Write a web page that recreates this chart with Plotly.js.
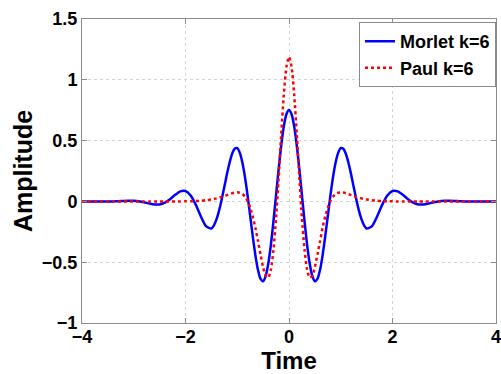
<!DOCTYPE html>
<html>
<head>
<meta charset="utf-8">
<script src="https://cdn.plot.ly/plotly-3.0.1.min.js"></script>
<style>html,body{margin:0;padding:0;background:#fff;}#chart{width:501px;height:374px;}</style>
</head>
<body>
<div id="chart"></div>
<script>
const time = [-4,-3.9,-3.8,-3.7,-3.6,-3.5,-3.4,-3.3,-3.2,-3.1,-3,-2.9,-2.8,-2.7,-2.6,-2.5,-2.4,-2.3,-2.2,-2.1,-2,-1.9,-1.8,-1.7,-1.6,-1.5,-1.45,-1.4,-1.35,-1.3,-1.25,-1.2,-1.15,-1.1,-1.05,-1,-0.95,-0.9,-0.85,-0.8,-0.75,-0.7,-0.65,-0.6,-0.55,-0.5,-0.45,-0.4,-0.35,-0.3,-0.25,-0.2,-0.15,-0.1,-0.05,0,0.05,0.1,0.15,0.2,0.25,0.3,0.35,0.4,0.45,0.5,0.55,0.6,0.65,0.7,0.75,0.8,0.85,0.9,0.95,1,1.05,1.1,1.15,1.2,1.25,1.3,1.35,1.4,1.45,1.5,1.6,1.7,1.8,1.9,2,2.1,2.2,2.3,2.4,2.5,2.6,2.7,2.8,2.9,3,3.1,3.2,3.3,3.4,3.5,3.6,3.7,3.8,3.9,4];

const morlet = [0.0001,-0.0001,-0.0004,-0.0008,-0.0011,-0.0009,0.0000,0.0019,0.0042,0.0060,0.0055,
0.0014,-0.0069,-0.0173,-0.0254,-0.0251,-0.0110,0.0177,0.0538,0.0828,0.0858,
0.0486,-0.0289,-0.1265,-0.2056,
-0.2222,-0.1964,-0.1464,-0.0735,0.0174,0.1192,0.2224,0.3161,0.3897,0.4328,
0.4374,0.3993,0.3180,0.1978,0.0477,-0.1195,-0.2882,-0.4414,-0.5626,-0.6376,
-0.6562,-0.6137,-0.5113,-0.3567,-0.1631,0.0515,0.2668,0.4617,0.6168,0.7167,
0.7511,
0.7167,0.6168,0.4617,0.2668,0.0515,-0.1631,-0.3567,-0.5113,-0.6137,-0.6562,
-0.6376,-0.5626,-0.4414,-0.2882,-0.1195,0.0477,0.1978,0.3180,0.3993,0.4374,
0.4328,0.3897,0.3161,0.2224,0.1192,0.0174,-0.0735,-0.1464,-0.1964,-0.2222,
-0.2056,-0.1265,-0.0289,0.0486,
0.0858,0.0828,0.0538,0.0177,-0.0110,-0.0251,-0.0254,-0.0173,-0.0069,0.0014,
0.0055,0.0060,0.0042,0.0019,0.0000,-0.0009,-0.0011,-0.0008,-0.0004,-0.0001,0.0001];

const paul = [-0.0001,-0.0001,-0.0001,-0.0001,-0.0001,-0.0001,-0.0001,-0.0002,-0.0002,-0.0002,-0.0003,
-0.0003,-0.0003,-0.0004,-0.0004,-0.0005,-0.0005,-0.0005,-0.0004,-0.0001,0.0004,
0.0014,0.0030,0.0056,0.0097,
0.0159,0.0200,0.0248,0.0305,0.0369,0.0441,0.0518,0.0594,0.0668,0.0724,
0.0743,0.0713,0.0604,0.0385,0.0022,-0.0515,-0.1239,-0.2170,-0.3250,-0.4374,
-0.5409,-0.6125,-0.6270,-0.5610,-0.3972,-0.1379,0.1944,0.5549,0.8792,1.1064,
1.1880,
1.1064,0.8792,0.5549,0.1944,-0.1379,-0.3972,-0.5610,-0.6270,-0.6125,-0.5409,
-0.4374,-0.3250,-0.2170,-0.1239,-0.0515,0.0022,0.0385,0.0604,0.0713,0.0743,
0.0724,0.0668,0.0594,0.0518,0.0441,0.0369,0.0305,0.0248,0.0200,0.0159,
0.0097,0.0056,0.0030,0.0014,
0.0004,-0.0001,-0.0004,-0.0005,-0.0005,-0.0005,-0.0004,-0.0004,-0.0003,-0.0003,
-0.0003,-0.0002,-0.0002,-0.0002,-0.0001,-0.0001,-0.0001,-0.0001,-0.0001,-0.0001,-0.0001];

const seriesNames = ["Morlet k=6", "Paul k=6"];
const xTicks = [-4, -2, 0, 2, 4];
const yTicks = [-1, -0.5, 0, 0.5, 1, 1.5];

const FONT = "Liberation Sans, Arial, sans-serif";

const traces = [
  {x: time, y: morlet, name: seriesNames[0], mode: "lines",
   line: {color: "#0000ff", width: 2.5, shape: "spline", smoothing: 0.6}},
  {x: time, y: paul, name: seriesNames[1], mode: "lines",
   line: {color: "#ff0000", width: 2.5, dash: "dot", shape: "spline", smoothing: 0.6}}
];

const axisCommon = {
  showline: true, mirror: "ticks", linecolor: "#8c8c8c", linewidth: 1,
  ticks: "inside", ticklen: 5, tickcolor: "#8c8c8c",
  showgrid: true, gridcolor: "#d4d4d4", griddash: "dot", gridwidth: 1,
  zeroline: false, ticklabeloverflow: "allow",
  tickfont: {family: FONT, size: 18, color: "#000", weight: "bold"}
};

const layout = {
  width: 501, height: 374,
  margin: {l: 82, r: 5, t: 19, b: 51},
  paper_bgcolor: "#fff", plot_bgcolor: "#fff",
  showlegend: true,
  legend: {x: 1, xanchor: "right", y: 0.99, yanchor: "top",
    bgcolor: "#fff", bordercolor: "#8c8c8c", borderwidth: 1,
    font: {family: FONT, size: 18, color: "#000", weight: "bold"},
    itemwidth: 30, tracegroupgap: 0},
  xaxis: Object.assign({}, axisCommon, {
    range: [-4, 4.0001], tickvals: xTicks, ticklabelstandoff: -3,
    title: {text: "Time", font: {family: FONT, size: 24, color: "#000", weight: "bold"}}
  }),
  yaxis: Object.assign({}, axisCommon, {
    range: [-1, 1.5], tickvals: yTicks, automargin: true,
    title: {text: "Amplitude", font: {family: FONT, size: 25, color: "#000", weight: "bold"}, standoff: 2}
  })
};

Plotly.newPlot("chart", traces, layout, {displayModeBar: false, staticPlot: true});
</script>
</body>
</html>
